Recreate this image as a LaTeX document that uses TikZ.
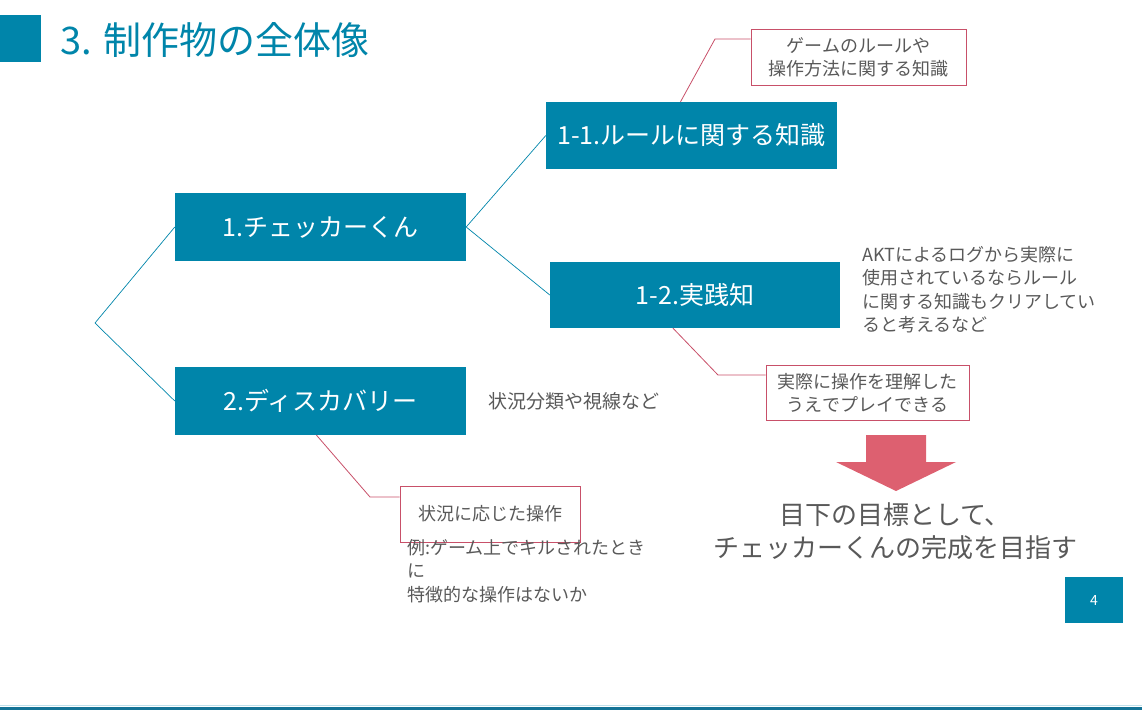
\documentclass[tikz,border=0pt]{standalone}
\usepackage{fontspec}
\setmainfont{Noto Sans CJK JP}
\definecolor{slteal}{RGB}{0,133,170}
\definecolor{slgray}{RGB}{89,89,89}
\definecolor{slpink}{RGB}{200,80,105}
\definecolor{slarrow}{RGB}{221,96,112}
\definecolor{slline}{RGB}{20,115,150}
\usetikzlibrary{calc}

\begin{document}
\begin{tikzpicture}[x=1pt,y=-1pt,
  topic/.style={fill=slteal, text=white, minimum width=291pt, minimum height=68pt, inner sep=0pt, font=\fontsize{25}{28}\selectfont},
  note/.style={draw=slpink, line width=0.8pt, fill=white, align=center, inner sep=0pt, text=slgray, font=\fontsize{18}{23}\selectfont},
  remark/.style={text=slgray, align=left, anchor=north west, inner sep=0pt, font=\fontsize{18}{23.5}\selectfont},
  branch/.style={draw=slteal, line width=0.7pt},
  leader/.style={draw=slpink, line width=0.8pt}]
  \useasboundingbox (0,0) rectangle (1142,709);
  %% title
  \fill[slteal] (0,15) rectangle (41,62);
  \node[anchor=west, text=slteal, inner sep=0pt, font=\fontsize{38}{40}\selectfont] (title) at (60,40) {3. 制作物の全体像};
  %% tree
  \node[topic] (chk) at (320.5,227) {1.チェッカーくん};
  \node[topic] (disc) at (320.5,401) {2.ディスカバリー};
  \node[topic, minimum height=67pt] (rule) at (691.5,135.5) {1-1.ルールに関する知識};
  \node[topic, minimum width=290pt, minimum height=66pt] (prac) at (695,295) {1-2.実践知};
  \coordinate (fork) at (95,323);
  \draw[branch] (chk.west) -- (fork) -- (disc.west);
  \draw[branch] (rule.west) -- (chk.east) -- (prac.west);
  %% callouts
  \node[note, minimum width=215pt, minimum height=56pt] (n-rule) at (858.5,57) {ゲームのルールや\\操作方法に関する知識};
  \node[note, minimum width=203pt, minimum height=55pt] (n-prac) at (867.5,392.5) {実際に操作を理解した\\うえでプレイできる};
  \node[note, minimum width=180pt, minimum height=56pt] (n-disc) at (490,514) {状況に応じた操作};
  \coordinate (k-rule) at (715,39);
  \coordinate (k-prac) at (718,375);
  \coordinate (k-disc) at (370,497);
  \draw[leader] ([xshift=-11pt]rule.north) -- (k-rule) -- (k-rule -| n-rule.west);
  \draw[leader] ([xshift=-22pt]prac.south) -- (k-prac) -- (k-prac -| n-prac.west);
  \draw[leader] ([xshift=-4pt]disc.south) -- (k-disc) -- (k-disc -| n-disc.west);
  %% remarks
  \node[remark, anchor=west, font=\fontsize{19}{23.5}\selectfont] (r-disc) at (488,401) {状況分類や視線など};
  \node[remark] (r-prac) at (862,246) {AKTによるログから実際に\\使用されているならルール\\に関する知識もクリアしてい\\ると考えるなど};
  \node[remark] (r-ex) at (407,539) {例:ゲーム上でキルされたとき\\に\\特徴的な操作はないか};
  %% goal
  \fill[slarrow] (866,435) -- (926,435) -- (926,462) -- (956,462) -- (896,491) -- (836,462) -- (866,462) -- cycle;
  \node[text=slgray, align=center, inner sep=0pt, font=\fontsize{26}{33}\selectfont] (goal) at (895,531) {目下の目標として、\\チェッカーくんの完成を目指す};
  %% page number and rule
  \node[fill=slteal, text=white, minimum width=58pt, minimum height=46pt, inner sep=0pt, font=\fontsize{14}{16}\selectfont] (page) at (1094,600) {4};
  \draw[slteal!25, line width=1pt] (0,705) -- (1142,705);
  \draw[slline, line width=3pt] (0,708) -- (1142,708);
\end{tikzpicture}
\end{document}
